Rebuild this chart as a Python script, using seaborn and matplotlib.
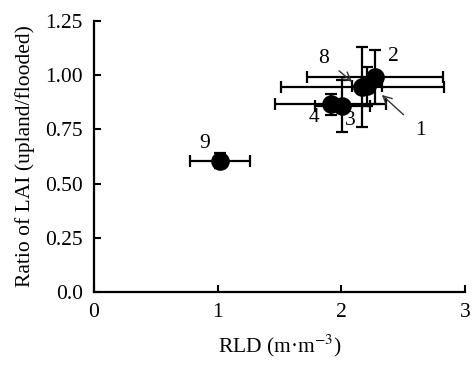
import matplotlib
matplotlib.use("Agg")
import matplotlib.pyplot as plt
import seaborn as sns
import pandas as pd

# data
labels = ['1', '2', '3', '4', '8', '9']
rld = [2.21, 2.275, 2.01, 1.915, 2.17, 1.02]
ratio = [0.95, 0.993, 0.86, 0.865, 0.946, 0.605]
rld_err = [0.12, 0.55, 0.22, 0.45, 0.66, 0.245]
ratio_err = [0.09, 0.125, 0.12, 0.05, 0.185, 0.035]
xticks = [0, 1, 2, 3]
yticks = [0.0, 0.25, 0.5, 0.75, 1.0, 1.25]
yticklabels = ['0.0', '0.25', '0.50', '0.75', '1.00', '1.25']

df = pd.DataFrame({'label': labels, 'rld': rld, 'ratio': ratio,
                   'xerr': rld_err, 'yerr': ratio_err})

sns.set_style('ticks')
plt.rcParams['font.family'] = ['Liberation Serif', 'DejaVu Serif']
plt.rcParams['mathtext.fontset'] = 'stix'
plt.rcParams['text.color'] = 'black'
plt.rcParams['axes.labelcolor'] = 'black'

fig = plt.figure(figsize=(4.72, 3.65), dpi=100)
ax = fig.add_axes([0.199, 0.2, 0.786, 0.7425])

ax.errorbar(df['rld'], df['ratio'], xerr=df['xerr'], yerr=df['yerr'],
            fmt='none', ecolor='black', elinewidth=1.6, capsize=4.5,
            capthick=1.6, zorder=2)
sns.scatterplot(data=df, x='rld', y='ratio', ax=ax, color='black', s=180,
                edgecolor='black', linewidth=0, zorder=3, legend=False)

fs = 15.5
pos = {'2': (2.42, 1.085), '3': (2.07, 0.793), '4': (1.78, 0.807), '9': (0.896, 0.686)}
for lab, (tx, ty) in pos.items():
    ax.text(tx, ty, lab, fontsize=fs, ha='center', va='center')

ax.annotate('8', xy=(2.088, 0.969), xytext=(1.86, 1.079), fontsize=fs,
            ha='center', va='center',
            arrowprops=dict(arrowstyle='->', color='#333333', lw=1.0,
                            shrinkA=6, shrinkB=0))
ax.annotate('1', xy=(2.328, 0.909), xytext=(2.64, 0.747), fontsize=fs,
            ha='center', va='center',
            arrowprops=dict(arrowstyle='->', color='#333333', lw=1.0,
                            shrinkA=8, shrinkB=0))

ax.set_xlim(0, 3)
ax.set_ylim(0, 1.25)
ax.set_xticks(xticks)
ax.set_xticklabels([str(t) for t in xticks])
ax.set_yticks(yticks)
ax.set_yticklabels(yticklabels)
ax.tick_params(direction='in', length=5, width=1.5, labelsize=fs, pad=8, colors='black')
for s in ['top', 'right']:
    ax.spines[s].set_visible(False)
for s in ['left', 'bottom']:
    ax.spines[s].set_linewidth(1.6)
    ax.spines[s].set_color('black')

ax.set_xlabel('RLD (m·m$^{-3}$)', fontsize=fs, labelpad=8)
ax.set_ylabel('Ratio of LAI (upland/flooded)', fontsize=fs, labelpad=7)

fig.savefig('out.png', dpi=100)
